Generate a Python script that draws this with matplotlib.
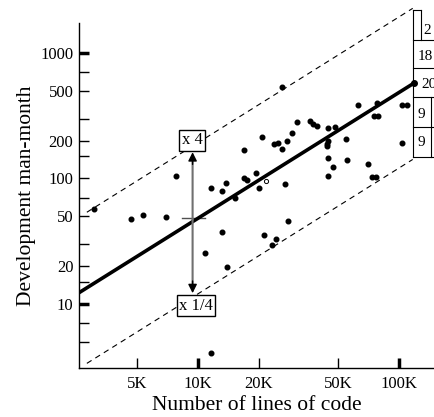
import numpy as np
import matplotlib
matplotlib.use("Agg")
import matplotlib.pyplot as plt
from matplotlib.lines import Line2D

plt.rcParams['font.family'] = ['Liberation Serif', 'DejaVu Serif']

# lines of code (thousands) vs development effort (man-months)
kloc = [3.04, 4.64, 5.33, 6.93, 7.77, 10.8, 11.6, 11.6, 13.2, 13.2, 13.8, 13.9,
        15.3, 16.9, 16.9, 17.5, 19.4, 20.1, 20.8, 21.3, 23.4, 24.4, 23.9, 25.0,
        26.2, 26.2, 27.1, 27.7, 28.0, 29.4, 31.1, 36.1, 37.3, 39.1, 44.4, 48.0,
        44.4, 43.8, 43.8, 54.5, 55.1, 44.4, 47.0, 44.4, 62.5, 77.7, 75.1, 78.6,
        70.1, 73.4, 76.9, 103.5, 109.6, 103.5]
man_month = [57, 47.5, 51, 49, 105, 25.5, 84, 4.1, 79, 37.5, 92, 19.7,
             70, 169, 101, 97, 111, 84, 214, 35.5, 29.5, 33, 188, 192,
             535, 172, 90, 199, 46, 231, 282, 287, 272, 262, 252, 257,
             199, 188, 181, 206, 140, 146, 124, 105, 385, 400, 315, 315,
             130, 103, 103, 385, 385, 192]
open_kloc = [21.8]
open_mm = [95.5]

# fitted line and the x4 / x1/4 band
fit_x = [2.56, 119]
fit_y = [12.3, 577]
band_x = [2.8, 117]
band_factor = 4

y_ticks = [10, 20, 50, 100, 200, 500, 1000]
y_minor = [5, 7, 15, 30, 70, 150, 300, 700]
x_ticks = [5000, 10000, 20000, 50000, 100000]
x_labels = ['5K', '10K', '20K', '50K', '100K']

# cut-off table at the right edge
table_rows = ['2', '18', '20', '9', '9']

W, H = 434, 417
fig = plt.figure(figsize=(W / 100, H / 100), dpi=100)
ax = fig.add_axes([79 / W, 49 / H, (W - 79) / W, (368 - 23) / H])
ax.set_xscale('log')
ax.set_yscale('log')
ax.set_xlim(2559, 149300)
ax.set_ylim(3.09, 1734)

for s in ['top', 'right']:
    ax.spines[s].set_visible(False)
ax.spines['left'].set_linewidth(1.0)
ax.spines['bottom'].set_linewidth(1.0)

ax.set_yticks(y_ticks)
ax.set_yticklabels([str(v) for v in y_ticks])
ax.set_yticks(y_minor, minor=True)
ax.yaxis.set_minor_formatter(matplotlib.ticker.NullFormatter())
ax.set_xticks(x_ticks)
ax.set_xticklabels(x_labels)
ax.xaxis.set_minor_locator(matplotlib.ticker.NullLocator())
ax.tick_params(which='both', direction='in', labelsize=12, width=1, length=7)
ax.tick_params(axis='y', pad=4)
ax.tick_params(axis='x', pad=6)

# heavier ticks at decades
for t in ax.yaxis.get_major_ticks():
    if t.get_loc() in (10, 1000):
        t.tick1line.set_markeredgewidth(2.5)
for t in ax.xaxis.get_major_ticks():
    if t.get_loc() in (10000, 100000):
        t.tick1line.set_markeredgewidth(2.5)

fx = np.array(fit_x) * 1000
ax.plot(fx, fit_y, color='black', lw=2.6, solid_capstyle='butt', zorder=3)
ax.plot(fx[-1], fit_y[-1], 'o', color='black', ms=4, zorder=4, clip_on=False)

bx = np.array(band_x) * 1000
slope = np.log(fit_y[1] / fit_y[0]) / np.log(fx[1] / fx[0])
by = fit_y[0] * (bx / fx[0]) ** slope
ax.plot(bx, by * band_factor, color='black', lw=0.8, ls=(0, (5, 4)), clip_on=False)
ax.plot(bx, by / band_factor, color='black', lw=0.8, ls=(0, (5, 4)), clip_on=False)

ax.scatter(np.array(kloc) * 1000, man_month, s=11, color='black', zorder=5)
ax.scatter(np.array(open_kloc) * 1000, open_mm, s=9, facecolor='white',
           edgecolor='black', lw=0.7, zorder=5)

# x4 / x1/4 arrows
ax_x = 9400
for tip in (162, 12.2):
    ax.annotate('', xy=(ax_x, tip), xytext=(ax_x, 47),
                arrowprops=dict(arrowstyle='-', color='#707070', lw=1.5,
                                shrinkA=0, shrinkB=4))
    ax.annotate('', xy=(ax_x, tip), xytext=(ax_x, tip * (0.8 if tip > 47 else 1.25)),
                arrowprops=dict(arrowstyle='-|>', color='black', lw=1.0,
                                mutation_scale=13, shrinkA=0, shrinkB=0))
ax.plot([8320, 10800], [48.5, 48.5], color='#505050', lw=1.0)
box = dict(boxstyle='square,pad=0.15', fc='white', ec='black', lw=1.0)
ax.text(9340, 201, 'x 4', ha='center', va='center', fontsize=12, bbox=box)
ax.text(9770, 9.72, 'x 1/4', ha='center', va='center', fontsize=12, bbox=box)

ax.set_xlabel('Number of lines of code', fontsize=15.5, labelpad=3)
ax.set_ylabel('Development man-month', fontsize=15.5, labelpad=3)

# table fragment on the right edge (figure pixel coords)
def fp(x, y):
    return x / W, 1 - y / H

def seg(x0, y0, x1, y1):
    (a, b), (c, d) = fp(x0, y0), fp(x1, y1)
    fig.add_artist(Line2D([a, c], [b, d], color='black', lw=0.8))

seg(413, 10, 413, 157)
seg(421, 10, 421, 40)
seg(413, 10, 421, 10)
for yy in [40, 68, 97, 127, 157]:
    seg(413, yy, 434, yy)
seg(431, 97, 431, 157)
row_pos = [(423, 31), (418, 56), (421, 84), (418, 114), (418, 143)]
for lab, (tx, ty) in zip(table_rows, row_pos):
    a, b = fp(tx, ty)
    fig.text(a, b, lab, fontsize=11, ha='left', va='center')

fig.savefig('out.png', dpi=100)
